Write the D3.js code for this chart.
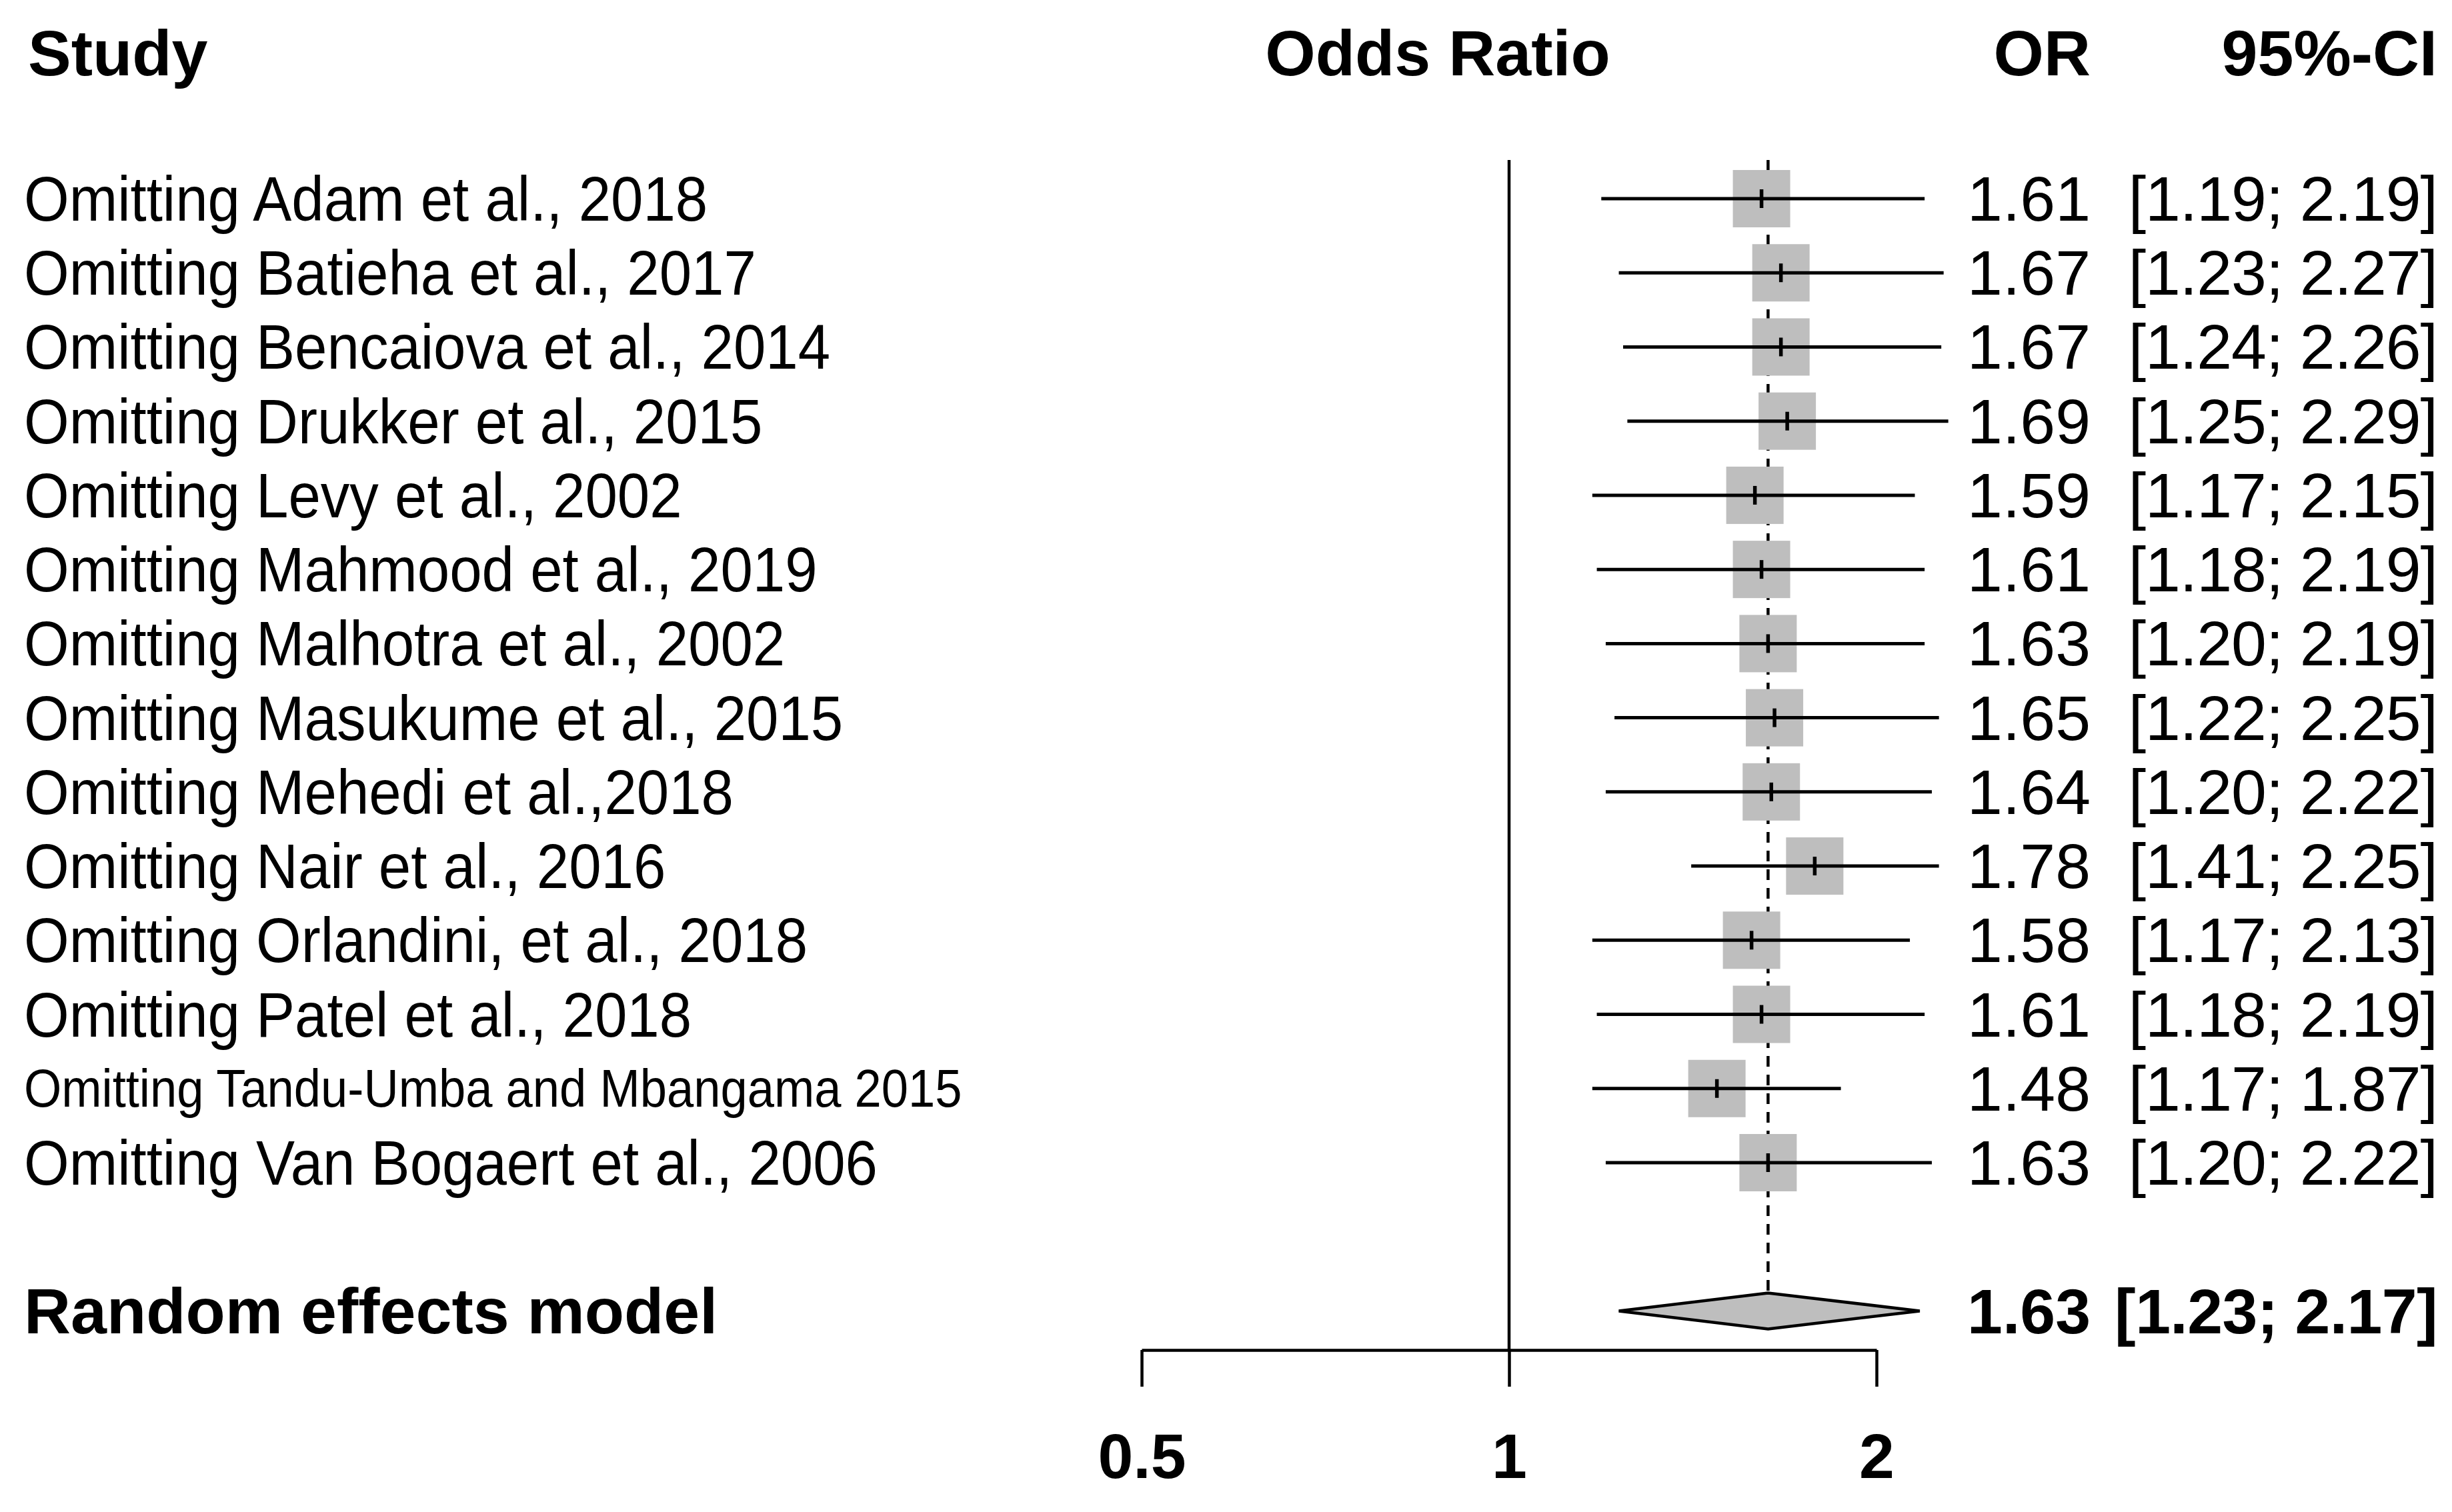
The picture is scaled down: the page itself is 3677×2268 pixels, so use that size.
<!DOCTYPE html>
<html>
<head>
<meta charset="utf-8">
<script src="https://cdn.jsdelivr.net/npm/d3@7"></script>
<style>
  html, body { margin: 0; padding: 0; background: #fff; }
  svg { display: block; }
  text { font-family: "Liberation Sans", Arial, Helvetica, sans-serif; fill: #000; }
</style>
</head>
<body>
<svg id="chart" width="3677" height="2268"></svg>
<script>
// ---------- data ----------
const studies = [
  "Omitting Adam et al., 2018",
  "Omitting Batieha et al., 2017",
  "Omitting Bencaiova et al., 2014",
  "Omitting Drukker et al., 2015",
  "Omitting Levy et al., 2002",
  "Omitting Mahmood et al., 2019",
  "Omitting Malhotra et al., 2002",
  "Omitting Masukume et al., 2015",
  "Omitting Mehedi et al.,2018",
  "Omitting Nair et al., 2016",
  "Omitting Orlandini, et al., 2018",
  "Omitting Patel et al., 2018",
  "Omitting Tandu-Umba and Mbangama 2015",
  "Omitting Van Bogaert et al., 2006"
];
const orValues = [1.61, 1.67, 1.67, 1.69, 1.59, 1.61, 1.63, 1.65, 1.64, 1.78, 1.58, 1.61, 1.48, 1.63];
const ciLower  = [1.19, 1.23, 1.24, 1.25, 1.17, 1.18, 1.20, 1.22, 1.20, 1.41, 1.17, 1.18, 1.17, 1.20];
const ciUpper  = [2.19, 2.27, 2.26, 2.29, 2.15, 2.19, 2.19, 2.25, 2.22, 2.25, 2.13, 2.19, 1.87, 2.22];
const smallLabel = [false,false,false,false,false,false,false,false,false,false,false,false,true,false];

const pooledLabel = "Random effects model";
const pooledOR = 1.63, pooledLower = 1.23, pooledUpper = 2.17;

const tickValues = [0.5, 1, 2];
const tickLabels = ["0.5", "1", "2"];
const headers = { study: "Study", effect: "Odds Ratio", or: "OR", ci: "95%-CI" };

// ---------- layout ----------
const svg = d3.select("#chart");
const x = d3.scaleLog().domain([0.5, 2]).range([1712, 2814]);
const y = d3.scaleLinear().domain([0, 13]).range([298, 1744]);
const yPooled = y(15);
const axisY = 2025;
const plotTop = 240;
const fmt = d3.format(".2f");
const ciText = (l, u) => "[" + fmt(l) + "; " + fmt(u) + "]";

const GRAY = "#bebebe";
const SQ = 86;
const OR_X = 3135;
const CI_X = 3655;

// headers
svg.append("text").attr("x", 42).attr("y", 113)
  .attr("font-size", 97).attr("font-weight", "bold").text(headers.study);
svg.append("text").attr("x", 2156).attr("y", 113).attr("text-anchor", "middle")
  .attr("font-size", 97).attr("font-weight", "bold").text(headers.effect);
svg.append("text").attr("x", OR_X).attr("y", 113).attr("text-anchor", "end")
  .attr("font-size", 97).attr("font-weight", "bold").text(headers.or);
svg.append("text").attr("x", CI_X).attr("y", 113).attr("text-anchor", "end")
  .attr("font-size", 97).attr("font-weight", "bold").text(headers.ci);

// reference line at 1
svg.append("line")
  .attr("x1", x(1)).attr("x2", x(1))
  .attr("y1", plotTop).attr("y2", axisY)
  .attr("stroke", "#000").attr("stroke-width", 4.5);

// dashed line at pooled estimate
svg.append("line")
  .attr("x1", x(pooledOR)).attr("x2", x(pooledOR))
  .attr("y1", plotTop).attr("y2", yPooled - 27)
  .attr("stroke", "#000").attr("stroke-width", 4.5)
  .attr("stroke-dasharray", "16,12");

const rows = studies.map((s, i) => ({
  study: s, or: orValues[i], lo: ciLower[i], hi: ciUpper[i], small: smallLabel[i], i
}));

// study labels
svg.append("g").attr("transform", "translate(36,0) scale(0.916,1)")
  .selectAll("text").data(rows).join("text")
  .attr("x", 0)
  .attr("y", d => y(d.i) + (d.small ? 27 : 33))
  .attr("font-size", d => d.small ? 79 : 95)
  .text(d => d.study);

// squares
svg.append("g").selectAll("rect").data(rows).join("rect")
  .attr("x", d => x(d.or) - SQ / 2)
  .attr("y", d => y(d.i) - SQ / 2)
  .attr("width", SQ).attr("height", SQ)
  .attr("fill", GRAY);

// CI lines
svg.append("g").selectAll("line").data(rows).join("line")
  .attr("x1", d => x(d.lo)).attr("x2", d => x(d.hi))
  .attr("y1", d => y(d.i)).attr("y2", d => y(d.i))
  .attr("stroke", "#000").attr("stroke-width", 5);

// point marks
svg.append("g").selectAll("line").data(rows).join("line")
  .attr("x1", d => x(d.or)).attr("x2", d => x(d.or))
  .attr("y1", d => y(d.i) - 14).attr("y2", d => y(d.i) + 14)
  .attr("stroke", "#000").attr("stroke-width", 5.5);

// OR values
svg.append("g").selectAll("text").data(rows).join("text")
  .attr("x", OR_X).attr("y", d => y(d.i) + 33)
  .attr("text-anchor", "end").attr("font-size", 95)
  .text(d => fmt(d.or));

// CI text
svg.append("g").selectAll("text").data(rows).join("text")
  .attr("x", CI_X).attr("y", d => y(d.i) + 33)
  .attr("text-anchor", "end").attr("font-size", 95)
  .attr("letter-spacing", -1.0)
  .text(d => ciText(d.lo, d.hi));

// pooled diamond
const dh = 27;
svg.append("polygon")
  .attr("points", [
    [x(pooledLower), yPooled], [x(pooledOR), yPooled - dh],
    [x(pooledUpper), yPooled], [x(pooledOR), yPooled + dh]
  ].map(p => p.join(",")).join(" "))
  .attr("fill", GRAY).attr("stroke", "#000").attr("stroke-width", 4.5);

svg.append("text").attr("x", 36).attr("y", yPooled + 34)
  .attr("font-size", 97).attr("font-weight", "bold").text(pooledLabel);
svg.append("text").attr("x", OR_X).attr("y", yPooled + 34).attr("text-anchor", "end")
  .attr("font-size", 95).attr("font-weight", "bold").text(fmt(pooledOR));
svg.append("text").attr("x", CI_X).attr("y", yPooled + 34).attr("text-anchor", "end")
  .attr("font-size", 95).attr("font-weight", "bold")
  .attr("letter-spacing", -0.6)
  .text(ciText(pooledLower, pooledUpper));

// axis
const axis = d3.axisBottom(x)
  .tickValues(tickValues)
  .tickFormat((d, i) => tickLabels[i])
  .tickSize(55).tickSizeOuter(0).tickPadding(70);
const gAxis = svg.append("g").attr("transform", `translate(0,${axisY})`).call(axis);
gAxis.select(".domain").attr("stroke", "#000").attr("stroke-width", 4.5);
gAxis.selectAll(".tick line").attr("stroke", "#000").attr("stroke-width", 4.5);
gAxis.selectAll(".tick text")
  .attr("font-size", 95).attr("font-weight", "bold")
  .attr("font-family", "'Liberation Sans', Arial, sans-serif").attr("fill", "#000");
</script>
</body>
</html>
